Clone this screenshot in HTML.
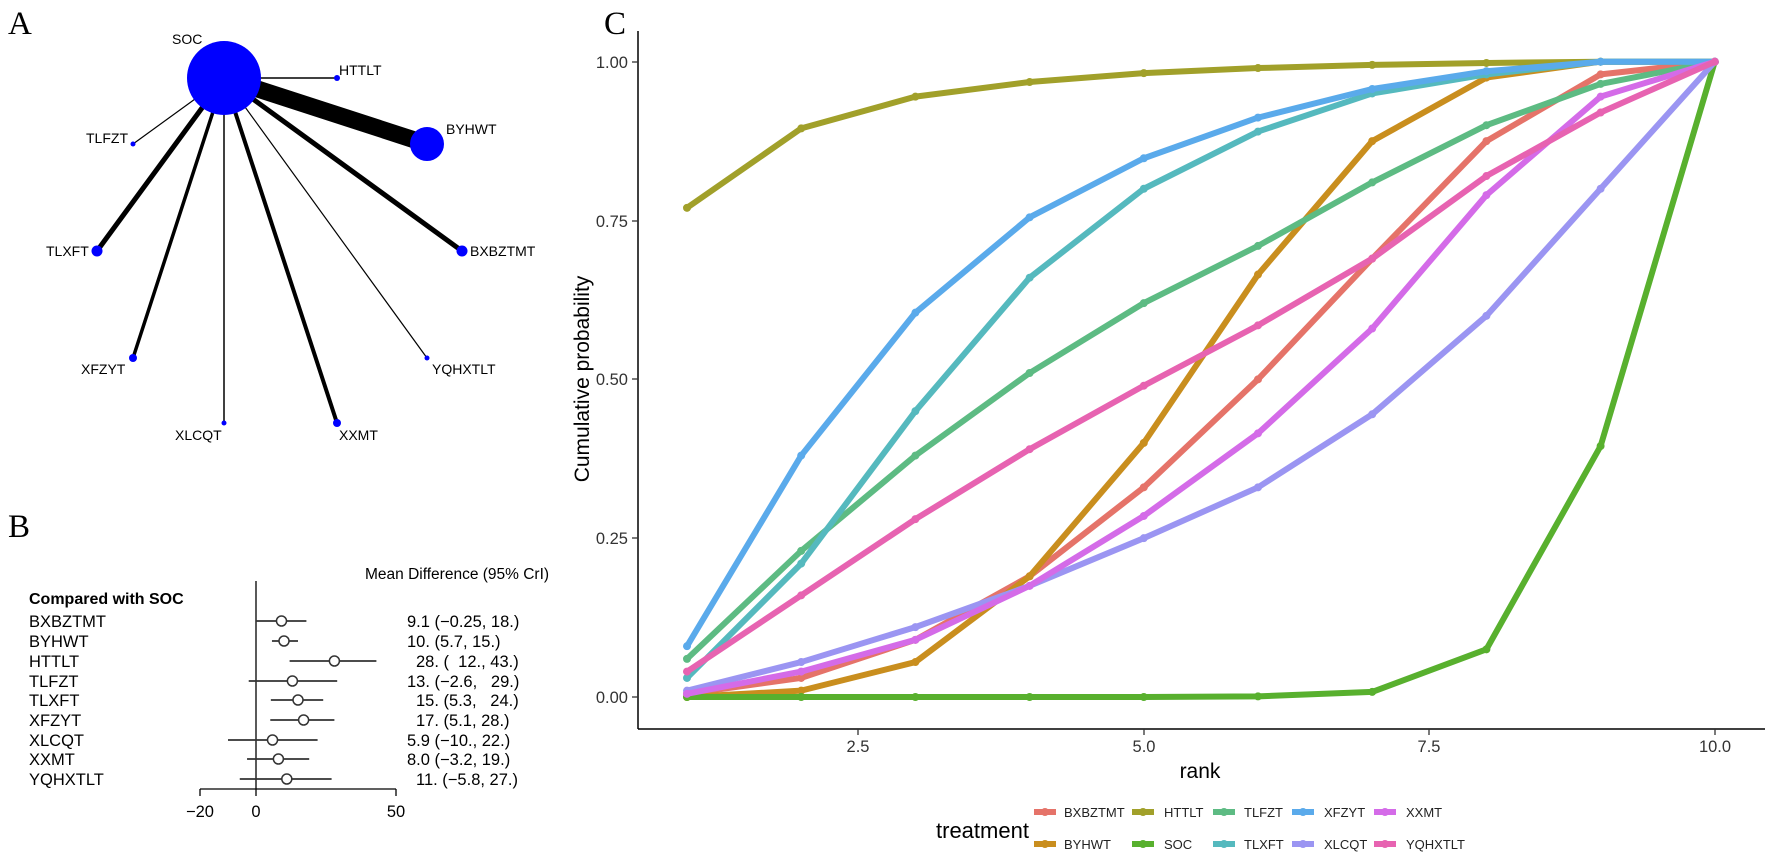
<!DOCTYPE html>
<html><head><meta charset="utf-8">
<style>
html,body{margin:0;padding:0;background:#fff;}
svg{display:block;font-family:"Liberation Sans",sans-serif;}
</style></head>
<body>
<svg id="s" width="1772" height="861" viewBox="0 0 1772 861" xmlns="http://www.w3.org/2000/svg">
<rect width="1772" height="861" fill="#fff"/>
<!-- Panel A -->
<text x="8" y="34" font-family="Liberation Serif,serif" font-size="33">A</text>
<g stroke="#000" stroke-linecap="butt">
<line x1="224" y1="78" x2="337" y2="78" stroke-width="1.5"/>
<line x1="224" y1="78" x2="427" y2="144" stroke-width="17"/>
<line x1="224" y1="78" x2="133" y2="144" stroke-width="1.2"/>
<line x1="224" y1="78" x2="97" y2="251" stroke-width="5"/>
<line x1="224" y1="78" x2="462" y2="251" stroke-width="5"/>
<line x1="224" y1="78" x2="133" y2="358" stroke-width="3.5"/>
<line x1="224" y1="78" x2="427" y2="358" stroke-width="1.2"/>
<line x1="224" y1="78" x2="224" y2="423" stroke-width="1.5"/>
<line x1="224" y1="78" x2="337" y2="423" stroke-width="4"/>
</g>
<g fill="#0000ff">
<circle cx="224" cy="78" r="37"/>
<circle cx="337" cy="78" r="3"/>
<circle cx="427" cy="144" r="17"/>
<circle cx="133" cy="144" r="2.5"/>
<circle cx="97" cy="251" r="5.5"/>
<circle cx="462" cy="251" r="5.5"/>
<circle cx="133" cy="358" r="4"/>
<circle cx="427" cy="358" r="2.5"/>
<circle cx="224" cy="423" r="2.5"/>
<circle cx="337" cy="423" r="4"/>
</g>
<g font-size="14" fill="#000">
<text x="172" y="44">SOC</text>
<text x="339" y="75">HTTLT</text>
<text x="446" y="134">BYHWT</text>
<text x="86" y="143">TLFZT</text>
<text x="46" y="256">TLXFT</text>
<text x="470" y="256">BXBZTMT</text>
<text x="81" y="374">XFZYT</text>
<text x="432" y="374">YQHXTLT</text>
<text x="175" y="440">XLCQT</text>
<text x="339" y="440">XXMT</text>
</g>
<!-- Panel B -->
<text x="8" y="537" font-family="Liberation Serif,serif" font-size="33">B</text>
<text x="365" y="579" font-size="15.5">Mean Difference (95% CrI)</text>
<text x="29" y="604" font-size="16" font-weight="bold">Compared with SOC</text>
<g font-size="16.5" fill="#000">
<text x="29" y="627">BXBZTMT</text>
<text x="29" y="647">BYHWT</text>
<text x="29" y="667">HTTLT</text>
<text x="29" y="687">TLFZT</text>
<text x="29" y="706">TLXFT</text>
<text x="29" y="726">XFZYT</text>
<text x="29" y="746">XLCQT</text>
<text x="29" y="765">XXMT</text>
<text x="29" y="785">YQHXTLT</text>
</g>
<g font-size="16.5" fill="#000" xml:space="preserve">
<text x="407" y="627" xml:space="preserve">9.1 (−0.25, 18.)</text>
<text x="407" y="647" xml:space="preserve">10. (5.7, 15.)</text>
<text x="416" y="667" xml:space="preserve">28. (  12., 43.)</text>
<text x="407" y="687" xml:space="preserve">13. (−2.6,   29.)</text>
<text x="416" y="706" xml:space="preserve">15. (5.3,   24.)</text>
<text x="416" y="726" xml:space="preserve">17. (5.1, 28.)</text>
<text x="407" y="746" xml:space="preserve">5.9 (−10., 22.)</text>
<text x="407" y="765" xml:space="preserve">8.0 (−3.2, 19.)</text>
<text x="416" y="785" xml:space="preserve">11. (−5.8, 27.)</text>
</g>
<line x1="256" y1="581" x2="256" y2="789" stroke="#000" stroke-width="1.3"/>
<line x1="200" y1="789" x2="396" y2="789" stroke="#000" stroke-width="1.3"/>
<g stroke="#000" stroke-width="1.3">
<line x1="200" y1="789" x2="200" y2="796"/><line x1="256" y1="789" x2="256" y2="796"/><line x1="396" y1="789" x2="396" y2="796"/>
</g>
<g font-size="16.5" text-anchor="middle">
<text x="200" y="817">−20</text><text x="256" y="817">0</text><text x="396" y="817">50</text>
</g>
<g id="forest"></g>
<!-- Panel C -->
<text x="604" y="34" font-family="Liberation Serif,serif" font-size="33">C</text>
<line x1="638" y1="31" x2="638" y2="729" stroke="#000" stroke-width="1.5"/>
<line x1="638" y1="729" x2="1765" y2="729" stroke="#000" stroke-width="1.5"/>
<g stroke="#333" stroke-width="1.3">
<line x1="632" y1="62" x2="638" y2="62"/><line x1="632" y1="221" x2="638" y2="221"/><line x1="632" y1="379" x2="638" y2="379"/><line x1="632" y1="538" x2="638" y2="538"/><line x1="632" y1="697" x2="638" y2="697"/>
<line x1="858" y1="729" x2="858" y2="735"/><line x1="1144" y1="729" x2="1144" y2="735"/><line x1="1429" y1="729" x2="1429" y2="735"/><line x1="1715" y1="729" x2="1715" y2="735"/>
</g>
<g font-size="16.5" fill="#333" text-anchor="end">
<text x="628" y="68">1.00</text><text x="628" y="227">0.75</text><text x="628" y="385">0.50</text><text x="628" y="544">0.25</text><text x="628" y="703">0.00</text>
</g>
<g font-size="16.5" fill="#333" text-anchor="middle">
<text x="858" y="752">2.5</text><text x="1144" y="752">5.0</text><text x="1429" y="752">7.5</text><text x="1715" y="752">10.0</text>
</g>
<text x="1200" y="778" font-size="21" text-anchor="middle">rank</text>
<text transform="translate(589,379) rotate(-90)" font-size="21" text-anchor="middle">Cumulative probability</text>
<g id="lines"></g>
<!-- Legend -->
<text x="936" y="838" font-size="22">treatment</text>
<g id="leg"></g>
<g font-size="13" fill="#222">
<text x="1064" y="817">BXBZTMT</text>
<text x="1164" y="817">HTTLT</text>
<text x="1244" y="817">TLFZT</text>
<text x="1324" y="817">XFZYT</text>
<text x="1406" y="817">XXMT</text>
<text x="1064" y="849">BYHWT</text>
<text x="1164" y="849">SOC</text>
<text x="1244" y="849">TLXFT</text>
<text x="1324" y="849">XLCQT</text>
<text x="1406" y="849">YQHXTLT</text>
</g>
</svg>
<script>
var NS="http://www.w3.org/2000/svg";
function el(t,a,p){var e=document.createElementNS(NS,t);for(var k in a)e.setAttribute(k,a[k]);p.appendChild(e);return e;}
var f=document.getElementById('forest');
var ci=[[9.1,-0.25,18],[10,5.7,15],[28,12,43],[13,-2.6,29],[15,5.3,24],[17,5.1,28],[5.9,-10,22],[8,-3.2,19],[11,-5.8,27]];
var ry=[621,641,661,681,700,720,740,759,779];
function fx(v){return 256+v*2.8;}
ci.forEach(function(c,i){
 el('line',{x1:fx(c[1]),x2:fx(c[2]),y1:ry[i],y2:ry[i],stroke:'#333','stroke-width':1.8},f);
 el('circle',{cx:fx(c[0]),cy:ry[i],r:5,fill:'#fff',stroke:'#333','stroke-width':1.5},f);
});
var g=document.getElementById('lines');
var S=[
['#E57369',[0.005,0.03,0.09,0.19,0.33,0.50,0.69,0.875,0.98,1]],
['#C98E1E',[0.0,0.01,0.055,0.19,0.40,0.665,0.875,0.975,1,1]],
['#A1A02A',[0.77,0.895,0.945,0.968,0.982,0.99,0.995,0.998,1,1]],
['#58B02E',[0,0,0,0,0,0.001,0.008,0.075,0.395,1]],
['#5DBB83',[0.06,0.23,0.38,0.51,0.62,0.71,0.81,0.90,0.965,1]],
['#55B9BE',[0.03,0.21,0.45,0.66,0.80,0.89,0.95,0.98,1,1]],
['#5AAAEB',[0.08,0.38,0.605,0.755,0.848,0.912,0.957,0.985,1,1]],
['#9B95F2',[0.01,0.055,0.11,0.175,0.25,0.33,0.445,0.60,0.80,1]],
['#D46BE8',[0.005,0.04,0.09,0.175,0.285,0.415,0.58,0.79,0.945,1]],
['#E763B1',[0.04,0.16,0.28,0.39,0.49,0.585,0.69,0.82,0.92,1]]];
S.forEach(function(s){
 var pts=s[1].map(function(v,i){return (687+i*114.2)+','+(697-v*635.3);}).join(' ');
 el('polyline',{points:pts,fill:'none',stroke:s[0],'stroke-width':6,'stroke-linejoin':'round'},g);
 s[1].forEach(function(v,i){el('circle',{cx:687+i*114.2,cy:697-v*635.3,r:4,fill:s[0]},g);});
});
var L=document.getElementById('leg');
var kx=[1045,1143,1224,1303,1385];
var order=[[0,2,4,6,8],[1,3,5,7,9]];
[812,844].forEach(function(y,r){order[r].forEach(function(si,c){
 el('line',{x1:kx[c]-11,x2:kx[c]+11,y1:y,y2:y,stroke:S[si][0],'stroke-width':6},L);
 el('circle',{cx:kx[c],cy:y,r:4,fill:S[si][0]},L);
});});
</script>
</body></html>
